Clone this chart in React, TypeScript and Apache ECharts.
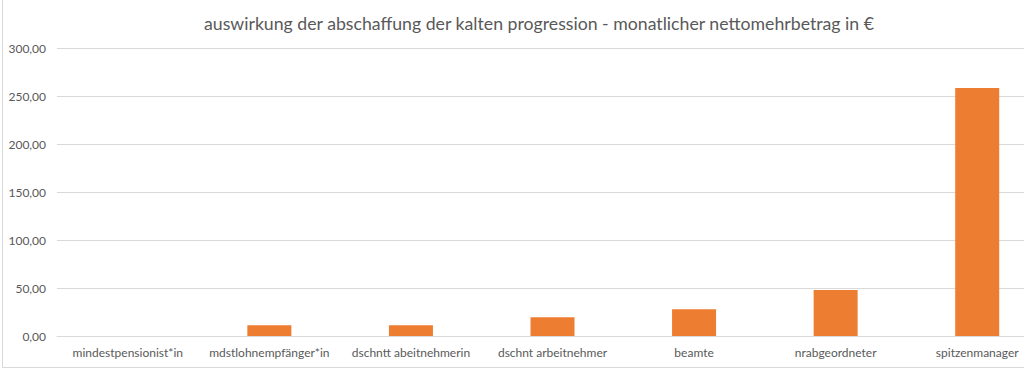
import React, { useEffect, useRef } from "react";
import * as echarts from "echarts";

const titleText = "auswirkung der abschaffung der kalten progression - monatlicher nettomehrbetrag in €";
const categories = [
  "mindestpensionist*in",
  "mdstlohnempfänger*in",
  "dschntt abeitnehmerin",
  "dschnt arbeitnehmer",
  "beamte",
  "nrabgeordneter",
  "spitzenmanager",
];
const values = [0, 11.2, 11.1, 19.5, 27.8, 47.9, 258.3];
const yMin = 0;
const yMax = 300;
const yStep = 50;

export default function App() {
  const ref = useRef<HTMLDivElement>(null);
  useEffect(() => {
    if (!ref.current) return;
    const chart = echarts.init(ref.current, null, { renderer: "svg" });
    const font = "Lato, 'Liberation Sans', sans-serif";
    chart.setOption({
      animation: false,
      backgroundColor: "#ffffff",
      title: {
        text: titleText,
        left: 534,
        textAlign: "center",
        top: 9,
        textStyle: { fontFamily: font, fontSize: 17.7, fontWeight: "normal", color: "#595959" },
      },
      graphic: [
        {
          type: "rect",
          shape: { x: 2.5, y: -10, width: 1100, height: 377.5 },
          style: { fill: "none", stroke: "#d9d9d9", lineWidth: 1 },
          silent: true,
          z: -1,
        },
      ],
      grid: { left: 57, right: 0, top: 48, bottom: 56, containLabel: false },
      xAxis: {
        type: "category",
        data: categories,
        axisLine: { show: true, lineStyle: { color: "#d9d9d9", width: 1 } },
        axisTick: { show: false },
        axisLabel: { interval: 0, margin: 10, color: "#595959", fontFamily: font, fontSize: 12 },
      },
      yAxis: {
        type: "value",
        min: yMin,
        max: yMax,
        interval: yStep,
        axisLine: { show: false },
        axisTick: { show: false },
        splitLine: { lineStyle: { color: "#d9d9d9", width: 1 } },
        axisLabel: {
          margin: 11,
          color: "#595959",
          fontFamily: font,
          fontSize: 12,
          formatter: (v: number) => v.toFixed(2).replace(".", ","),
        },
      },
      series: [
        {
          type: "bar",
          data: values,
          barWidth: 44,
          itemStyle: { color: "#ED7D31" },
        },
      ],
    });
    return () => chart.dispose();
  }, []);
  return (
    <div style={{ position: "absolute", left: 0, top: 0, width: 1024, height: 392, overflow: "hidden" }}>
      <div ref={ref} style={{ width: 1048, height: 392 }} />
    </div>
  );
}
